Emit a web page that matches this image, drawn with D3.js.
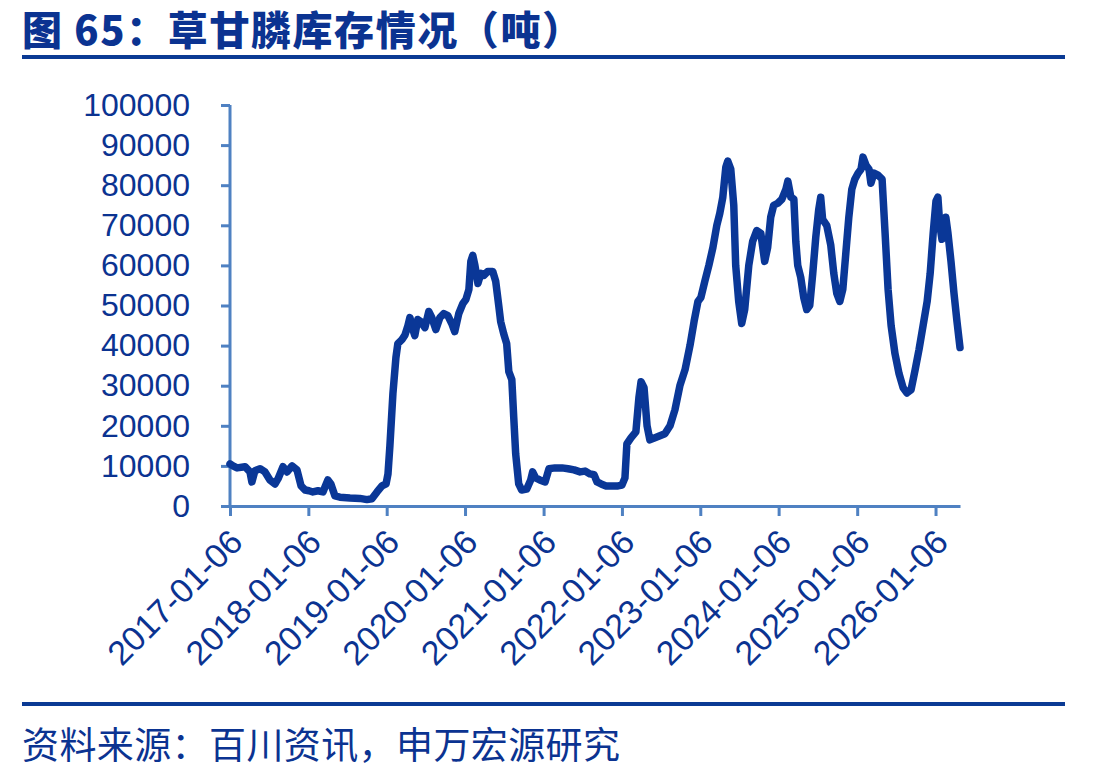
<!DOCTYPE html>
<html>
<head>
<meta charset="utf-8">
<script src="https://cdn.jsdelivr.net/npm/d3@7"></script>
<style>
  body { margin: 0; background: #fff; }
  svg { display: block; }
</style>
</head>
<body>
<svg id="chart" width="1100" height="779"></svg>
<script>
// chart text
const titleText = "图 65：草甘膦库存情况（吨）";
const sourceText = "资料来源：百川资讯，申万宏源研究";

// x tick labels (one per year)
const xTicks = ["2017-01-06", "2018-01-06", "2019-01-06", "2020-01-06", "2021-01-06",
                "2022-01-06", "2023-01-06", "2024-01-06", "2025-01-06", "2026-01-06"];
const yTicks = [0, 10000, 20000, 30000, 40000, 50000, 60000, 70000, 80000, 90000, 100000];

// inventory series
const dates = [
  "2017-01-06","2017-01-20","2017-02-08","2017-03-17","2017-04-09","2017-04-18","2017-05-02","2017-05-26",
  "2017-06-18","2017-07-11","2017-08-04","2017-08-18","2017-09-10","2017-09-29","2017-10-22","2017-11-14",
  "2017-12-03","2017-12-22",
  "2018-01-09","2018-01-27","2018-02-20","2018-03-15","2018-04-07","2018-04-21","2018-05-10","2018-06-02",
  "2018-07-19","2018-09-03","2018-10-06","2018-10-29","2018-11-22","2018-12-15","2019-01-03",
  "2019-01-12","2019-01-21","2019-02-04","2019-02-18","2019-02-27","2019-03-18","2019-04-01","2019-04-15",
  "2019-04-24","2019-05-08","2019-05-17","2019-05-31","2019-06-14","2019-07-03","2019-07-21","2019-08-04",
  "2019-08-23","2019-09-11","2019-09-29","2019-10-18","2019-11-05","2019-11-19","2019-12-08","2019-12-27",
  "2020-01-10","2020-01-24","2020-02-02","2020-02-11","2020-02-21","2020-03-06","2020-03-20","2020-04-03",
  "2020-04-21","2020-05-14","2020-05-28","2020-06-11","2020-06-20","2020-07-04","2020-07-18","2020-07-28",
  "2020-08-11","2020-08-20","2020-08-29","2020-09-12","2020-09-26","2020-10-19","2020-11-07","2020-11-16",
  "2020-11-30","2020-12-19",
  "2021-01-13","2021-01-31","2021-02-28","2021-04-02","2021-04-30","2021-05-28","2021-06-25","2021-07-18",
  "2021-08-10","2021-08-29","2021-09-12","2021-10-01","2021-10-24","2021-11-21","2021-12-19",
  "2022-01-06","2022-01-20","2022-01-29","2022-02-17","2022-03-12","2022-03-26","2022-04-05","2022-04-19",
  "2022-05-03","2022-05-16","2022-06-09","2022-07-02","2022-07-25","2022-08-18","2022-09-10","2022-10-03",
  "2022-10-27","2022-11-19","2022-12-08","2022-12-26",
  "2023-01-09","2023-01-27","2023-02-15","2023-03-06","2023-03-24","2023-04-07","2023-04-21","2023-05-05",
  "2023-05-14","2023-05-28","2023-06-11","2023-06-20","2023-07-04","2023-07-18","2023-08-01","2023-08-20",
  "2023-09-07","2023-09-26","2023-10-15","2023-11-02","2023-11-16","2023-11-30","2023-12-14",
  "2024-01-02","2024-01-21","2024-02-09","2024-02-18","2024-03-03","2024-03-17","2024-03-26","2024-04-04",
  "2024-04-18","2024-05-02","2024-05-16","2024-05-30","2024-06-13","2024-06-27","2024-07-11","2024-07-20",
  "2024-07-29","2024-08-17","2024-09-05","2024-09-19","2024-10-03","2024-10-17","2024-10-31","2024-11-14",
  "2024-11-28","2024-12-12","2024-12-26",
  "2025-01-10","2025-01-24","2025-02-02","2025-02-16","2025-03-02","2025-03-11","2025-03-25","2025-04-13",
  "2025-05-02","2025-05-16","2025-05-30","2025-06-13","2025-07-01","2025-07-20","2025-08-08","2025-08-26",
  "2025-09-14","2025-10-03","2025-10-21","2025-11-09","2025-11-28","2025-12-12","2025-12-26",
  "2026-01-08","2026-01-17","2026-01-26","2026-02-05","2026-02-14","2026-02-23","2026-03-05","2026-03-19",
  "2026-04-02","2026-04-16","2026-04-30"
];
const stock = [
  10500,10000,9500,9800,8500,6000,8800,9300,
  8500,6500,5500,6800,9800,8500,10000,9000,
  5000,4000,
  3800,3500,3800,3500,6500,5500,2500,2200,
  2000,1900,1600,1800,3500,5000,5500,
  8000,15000,28000,37000,40500,41500,42600,45000,
  47000,44000,42500,46500,46000,44500,48500,47000,
  44000,47000,48000,47500,45500,43500,48000,50500,
  51500,54000,61000,62500,60000,55500,58000,57500,
  58500,58500,56000,50000,46000,43000,40500,33500,
  31500,22000,13000,5500,4000,4200,6500,8500,
  7000,6500,
  6000,9300,9500,9500,9300,9000,8500,8700,
  8000,7800,6000,5500,5000,5000,5000,
  5200,7000,15500,17000,18500,27000,31000,29500,
  20000,16500,17000,17500,18000,20000,24000,30000,
  34000,40000,46000,51000,
  52000,56000,60000,64500,70000,73000,77000,84500,
  86000,84000,75000,60000,51000,45500,49000,60000,
  66000,68700,68000,61000,64500,72000,75000,
  75500,76500,79000,81000,77000,76500,66000,60000,
  57000,52000,49000,50000,58000,67000,74000,77000,
  71500,70000,65000,58000,53000,51000,54000,63000,
  72000,79000,81500,
  83000,84000,87000,85000,84000,80500,83000,82500,
  81500,68000,54000,45000,38000,33000,29500,28200,
  29000,34000,39000,45000,51000,58000,68000,
  76000,77000,70000,66500,69000,72000,68000,61000,
  53000,46000,39500
];

const textColor = "#0b3391",
      lineColor = "#0a3797",
      axisColor = "#4f81c2";

const svg = d3.select("#chart");
const parse = d3.timeParse("%Y-%m-%d");

// layout
const plotLeft = 230, plotRight = 960, plotTop = 105, plotBottom = 506;

const data = dates.map((d, i) => ({date: parse(d), value: stock[i]}));

const xScale = d3.scaleTime()
  .domain([parse("2017-01-06"), parse("2026-04-30")])
  .range([plotLeft, plotRight]);

const yScale = d3.scaleLinear()
  .domain([0, 100000])
  .range([plotBottom, plotTop]);

// title + rules
svg.append("text")
  .attr("x", 22).attr("y", 45)
  .attr("textLength", 560)
  .attr("lengthAdjust", "spacing")
  .style("font-family", "'Noto Sans CJK SC', sans-serif")
  .style("font-weight", "900")
  .style("font-size", "40px")
  .attr("fill", textColor)
  .text(titleText);

svg.append("line")
  .attr("x1", 22).attr("x2", 1065).attr("y1", 57).attr("y2", 57)
  .attr("stroke", "#0a3a94").attr("stroke-width", 4);

svg.append("line")
  .attr("x1", 22).attr("x2", 1065).attr("y1", 704).attr("y2", 704)
  .attr("stroke", "#0a3a94").attr("stroke-width", 4);

svg.append("text")
  .attr("x", 22).attr("y", 759)
  .attr("textLength", 598)
  .attr("lengthAdjust", "spacing")
  .style("font-family", "'Noto Sans CJK SC', sans-serif")
  .style("font-size", "37px")
  .attr("fill", textColor)
  .text(sourceText);

// axes
const yAxis = d3.axisLeft(yScale)
  .tickValues(yTicks)
  .tickSize(9)
  .tickPadding(31)
  .tickFormat(d3.format("d"));

const xAxis = d3.axisBottom(xScale)
  .tickValues(xTicks.map(parse))
  .tickSize(10)
  .tickSizeOuter(0)
  .tickFormat(d3.timeFormat("%Y-%m-%d"));

const gy = svg.append("g")
  .attr("transform", "translate(" + plotLeft + ",0)")
  .call(yAxis);

const gx = svg.append("g")
  .attr("transform", "translate(0," + plotBottom + ")")
  .call(xAxis);

[gx, gy].forEach(g => {
  g.select(".domain").attr("stroke", axisColor).attr("stroke-width", 3);
  g.selectAll(".tick line").attr("stroke", axisColor).attr("stroke-width", 3);
  g.selectAll(".tick text")
    .attr("fill", textColor)
    .style("font-family", "'Liberation Sans', Arial, sans-serif");
});

gy.selectAll(".tick text").style("font-size", "32px");
gx.selectAll(".tick text").style("font-size", "34px");

// y axis domain without outer ticks
gy.select(".domain").attr("d", "M0," + plotTop + "V" + plotBottom);

gx.selectAll(".tick text")
  .attr("text-anchor", "end")
  .attr("dy", "0")
  .attr("transform", "translate(5,29) rotate(-45)");

// series line
const line = d3.line()
  .x(d => xScale(d.date))
  .y(d => yScale(d.value))
  .curve(d3.curveLinear);

svg.append("path")
  .datum(data)
  .attr("fill", "none")
  .attr("stroke", lineColor)
  .attr("stroke-width", 7.5)
  .attr("stroke-linejoin", "round")
  .attr("stroke-linecap", "round")
  .attr("d", line);
</script>
</body>
</html>
